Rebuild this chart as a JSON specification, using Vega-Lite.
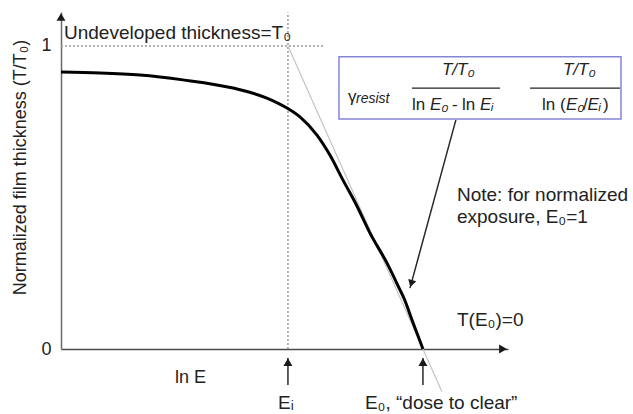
{
  "$schema": "https://vega.github.io/schema/vega-lite/v6.json",
  "width": 447,
  "height": 337,
  "autosize": "none",
  "padding": {"left": 61, "top": 12, "right": 125, "bottom": 65},
  "background": "white",
  "config": {
    "font": "Liberation Sans",
    "view": {"stroke": null},
    "text": {"font": "Liberation Sans", "color": "#222"}
  },
  "datasets": {
    "curve": [
      {"x": -2.681, "y": 0.914},
      {"x": -2.393, "y": 0.911},
      {"x": -2.096, "y": 0.904},
      {"x": -1.778, "y": 0.888},
      {"x": -1.407, "y": 0.861},
      {"x": -1.156, "y": 0.828},
      {"x": -1.007, "y": 0.795},
      {"x": -0.911, "y": 0.766},
      {"x": -0.785, "y": 0.706},
      {"x": -0.689, "y": 0.640},
      {"x": -0.593, "y": 0.558},
      {"x": -0.489, "y": 0.472},
      {"x": -0.393, "y": 0.383},
      {"x": -0.267, "y": 0.284},
      {"x": -0.170, "y": 0.195},
      {"x": -0.141, "y": 0.168},
      {"x": -0.081, "y": 0.096},
      {"x": 0.0, "y": 0.0}
    ],
    "guides": [
      {"x": -2.681, "y": 1.0, "x2": -0.726, "y2": 1.0},
      {"x": -1.0, "y": 0.0, "x2": -1.0, "y2": 1.11}
    ],
    "tangent": [
      {"x": -1.0, "y": 1.0, "x2": 0.14, "y2": -0.14}
    ],
    "shafts": [
      {"x": 0.244, "y": 0.756, "x2": -0.096, "y2": 0.201},
      {"x": -1.0, "y": -0.119, "x2": -1.0, "y2": -0.03},
      {"x": 0.0, "y": -0.119, "x2": 0.0, "y2": -0.03}
    ],
    "headsUp": [
      {"x": -2.681, "y": 1.112},
      {"x": -1.0, "y": -0.027},
      {"x": 0.0, "y": -0.027}
    ],
    "headsRight": [
      {"x": 0.63, "y": 0.0}
    ],
    "headsNote": [
      {"x": -0.096, "y": 0.201}
    ],
    "box": [
      {"x": -0.622, "y": 0.964, "x2": 1.467, "y2": 0.759}
    ],
    "bars": [
      {"x": -0.081, "y": 0.861, "x2": 0.57, "y2": 0.861},
      {"x": 0.793, "y": 0.861, "x2": 1.459, "y2": 0.861}
    ],
    "labels": [
      {"x": -2.659, "y": 1.043, "text": "Undeveloped thickness=T₀"},
      {"x": 0.252, "y": 0.508, "text": "Note: for normalized"},
      {"x": 0.252, "y": 0.434, "text": "exposure, E₀=1"},
      {"x": 0.252, "y": 0.096, "text": "T(E₀)=0"},
      {"x": -1.074, "y": -0.178, "text": "Eᵢ"},
      {"x": -0.43, "y": -0.178, "text": "E₀, “dose to clear”"}
    ],
    "formulaUpright": [
      {"x": -0.556, "y": 0.832, "text": "γ"},
      {"x": -0.081, "y": 0.805, "text": "ln"},
      {"x": 0.215, "y": 0.805, "text": "-"},
      {"x": 0.289, "y": 0.805, "text": "ln"},
      {"x": 0.881, "y": 0.805, "text": "ln"},
      {"x": 1.015, "y": 0.805, "text": "("},
      {"x": 1.185, "y": 0.805, "text": "/"},
      {"x": 1.333, "y": 0.805, "text": ")"}
    ],
    "formulaItalic": [
      {"x": 0.141, "y": 0.921, "text": "T/T₀"},
      {"x": 1.037, "y": 0.921, "text": "T/T₀"},
      {"x": 0.052, "y": 0.805, "text": "E₀"},
      {"x": 0.422, "y": 0.805, "text": "Eᵢ"},
      {"x": 1.059, "y": 0.805, "text": "E₀"},
      {"x": 1.219, "y": 0.805, "text": "Eᵢ"}
    ],
    "gammaSub": [
      {"x": -0.496, "y": 0.825, "text": "resist"}
    ]
  },
  "encoding": {
    "x": {
      "field": "x",
      "type": "quantitative",
      "scale": {"domain": [-2.681, 0.63], "nice": false, "zero": false},
      "axis": {
        "title": "ln E",
        "labels": false,
        "ticks": false,
        "grid": false,
        "domainColor": "#4a4a4a",
        "domainWidth": 1.5,
        "titleFont": "Liberation Sans",
        "titleFontSize": 18,
        "titleFontWeight": "normal",
        "titleColor": "#222",
        "titleX": 129,
        "titleY": 28,
        "titleAlign": "center",
        "titleBaseline": "middle"
      }
    },
    "y": {
      "field": "y",
      "type": "quantitative",
      "scale": {"domain": [0, 1.112], "nice": false, "zero": false},
      "axis": {
        "title": "Normalized film thickness (T/T₀)",
        "values": [0, 1],
        "format": "d",
        "ticks": false,
        "grid": false,
        "labelPadding": 10,
        "labelFont": "Liberation Sans",
        "labelFontSize": 18,
        "labelColor": "#222",
        "domainColor": "#6a6a6a",
        "domainWidth": 1.5,
        "titleFont": "Liberation Sans",
        "titleFontSize": 18,
        "titleFontWeight": "normal",
        "titleColor": "#222",
        "titleX": -41,
        "titleY": 155,
        "titleAlign": "center",
        "titleBaseline": "middle",
        "titleAngle": -90
      }
    }
  },
  "layer": [
    {
      "data": {"name": "guides"},
      "mark": {"type": "rule", "color": "#9a9a9a", "strokeWidth": 1.5, "strokeDash": [2, 2]},
      "encoding": {"x2": {"field": "x2"}, "y2": {"field": "y2"}}
    },
    {
      "data": {"name": "tangent"},
      "mark": {"type": "rule", "color": "#c4c4c4", "strokeWidth": 1.2},
      "encoding": {"x2": {"field": "x2"}, "y2": {"field": "y2"}}
    },
    {
      "data": {"name": "curve"},
      "mark": {"type": "line", "color": "#000", "strokeWidth": 3, "interpolate": "monotone"}
    },
    {
      "data": {"name": "shafts"},
      "mark": {"type": "rule", "color": "#2a2a2a", "strokeWidth": 1.5},
      "encoding": {"x2": {"field": "x2"}, "y2": {"field": "y2"}}
    },
    {
      "data": {"name": "headsUp"},
      "mark": {"type": "point", "shape": "triangle-up", "filled": true, "opacity": 1, "color": "#1a1a1a", "size": 80, "yOffset": 5}
    },
    {
      "data": {"name": "headsRight"},
      "mark": {"type": "point", "shape": "triangle-right", "filled": true, "opacity": 1, "color": "#1a1a1a", "size": 80, "xOffset": -5}
    },
    {
      "data": {"name": "headsNote"},
      "mark": {"type": "point", "shape": "triangle-up", "angle": 196, "filled": true, "opacity": 1, "color": "#1a1a1a", "size": 70, "xOffset": 1.3, "yOffset": -4.5}
    },
    {
      "data": {"name": "box"},
      "mark": {"type": "rect", "fill": "white", "stroke": "#8585d6", "strokeWidth": 1.5},
      "encoding": {"x2": {"field": "x2"}, "y2": {"field": "y2"}}
    },
    {
      "data": {"name": "bars"},
      "mark": {"type": "rule", "color": "#222", "strokeWidth": 1.3},
      "encoding": {"x2": {"field": "x2"}, "y2": {"field": "y2"}}
    },
    {
      "data": {"name": "labels"},
      "mark": {"type": "text", "align": "left", "baseline": "middle", "fontSize": 19, "color": "#222"},
      "encoding": {"text": {"field": "text"}}
    },
    {
      "data": {"name": "formulaUpright"},
      "mark": {"type": "text", "align": "left", "baseline": "middle", "fontSize": 17, "color": "#222"},
      "encoding": {"text": {"field": "text"}}
    },
    {
      "data": {"name": "formulaItalic"},
      "mark": {"type": "text", "align": "left", "baseline": "middle", "fontSize": 17, "fontStyle": "italic", "color": "#222"},
      "encoding": {"text": {"field": "text"}}
    },
    {
      "data": {"name": "gammaSub"},
      "mark": {"type": "text", "align": "left", "baseline": "middle", "fontSize": 14, "fontStyle": "italic", "color": "#222"},
      "encoding": {"text": {"field": "text"}}
    }
  ]
}
